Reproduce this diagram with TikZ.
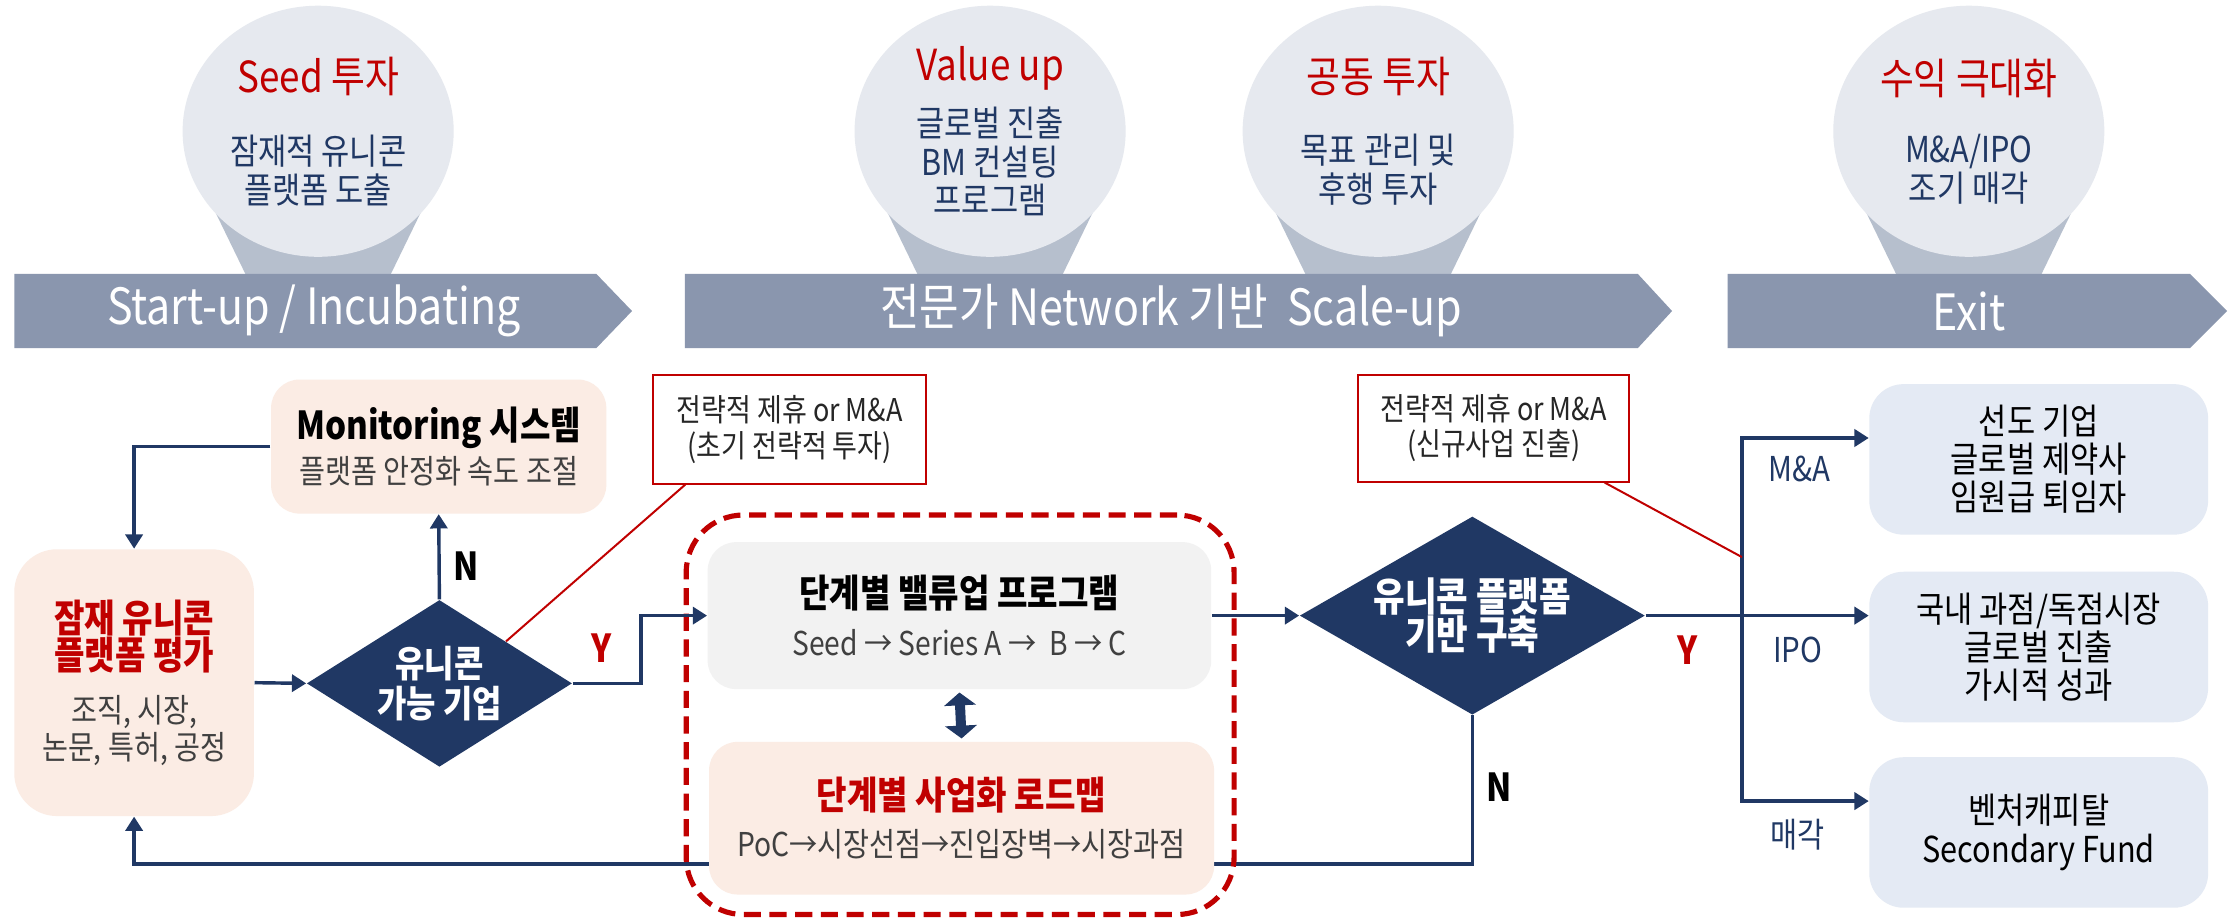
\documentclass[tikz,border=0pt]{standalone}
\usepackage{fontspec}
\setmainfont{Noto Sans CJK KR}[FakeStretch=0.86]
\usetikzlibrary{shapes.geometric,arrows.meta,positioning}

\definecolor{navy}{HTML}{203864}
\definecolor{darkred}{HTML}{C00000}
\definecolor{bannergray}{HTML}{8A96AE}
\definecolor{bubblefill}{HTML}{E6E9EF}
\definecolor{tailfill}{HTML}{B6BFCD}
\definecolor{peach}{HTML}{FBECE4}
\definecolor{lightgray}{HTML}{F2F2F2}
\definecolor{paleblue}{HTML}{E4EAF4}
\definecolor{textgray}{HTML}{404040}

\newcommand{\bubhead}[1]{{\color{darkred}\fontsize{15}{16}\selectfont #1}}
\newcommand{\redhead}[1]{{\color{darkred}\bfseries\fontsize{13.5}{15}\selectfont #1}}
\newcommand{\blackhead}[1]{{\color{black}\bfseries\fontsize{13.5}{15}\selectfont #1}}

\tikzset{
  banner/.style={fill=bannergray},
  bannertext/.style={text=white, font=\fontsize{17.5}{20}\selectfont},
  tail/.style={fill=tailfill},
  bubble/.style={ellipse, fill=bubblefill, minimum width=95pt, minimum height=88pt,
    inner sep=0pt, align=center, text=navy, font=\fontsize{12.5}{13.5}\selectfont},
  softbox/.style={rounded corners=10pt, align=center, inner sep=0pt},
  decision/.style={diamond, fill=navy, inner sep=0pt},
  decisiontext/.style={text=white, align=center, font=\bfseries\fontsize{13}{14}\selectfont},
  note/.style={draw=darkred, line width=0.7pt, fill=white, align=center, inner sep=0pt,
    text=black!85, font=\fontsize{11}{12.5}\selectfont},
  group/.style={draw=darkred, dash pattern=on 6pt off 3pt, line width=1.8pt, rounded corners=20pt},
  exitbox/.style={softbox, rounded corners=12pt, fill=paleblue, minimum width=118.75pt,
    minimum height=52.75pt, font=\fontsize{12.5}{13.4}\selectfont},
  flow/.style={draw=navy, line width=1.2pt, -{Triangle[length=5pt,width=6pt]}},
  link/.style={draw=navy, line width=3.5pt, {Triangle[length=4.5pt,width=11pt]}-{Triangle[length=4.5pt,width=11pt]}},
  callout/.style={draw=darkred, line width=0.7pt},
  yes/.style={text=darkred, font=\bfseries\fontsize{13.5}{15}\selectfont},
  no/.style={text=black, font=\bfseries\fontsize{13.5}{15}\selectfont},
  route/.style={text=navy, font=\fontsize{12}{14}\selectfont}
}

\begin{document}
\begin{tikzpicture}[x=0.5pt,y=-0.5pt]
  \fill[white] (0,0) rectangle (1568,644);
  \useasboundingbox (0,0) rectangle (1568,644);

  % stage bar with bubbles
  \foreach \cx in {223,694,966,1380}
    \fill[tail] (\cx-86,120) -- (\cx-51,192) -- (\cx+51,192) -- (\cx+86,120) -- cycle;
  \fill[banner] (10,192) -- (418,192) -- (443,218) -- (418,244) -- (10,244) -- cycle;
  \fill[banner] (480,192) -- (1148,192) -- (1172,218) -- (1148,244) -- (480,244) -- cycle;
  \fill[banner] (1211,192) -- (1535,192) -- (1561,218) -- (1535,244) -- (1211,244) -- cycle;
  \node[bannertext] (stage1) at (220,218) {Start-up / Incubating};
  \node[bannertext] (stage2) at (821,218) {전문가 Network 기반~~Scale-up};
  \node[bannertext] (stage3) at (1380,218) {Exit};

  \node[bubble] (seed) at (223,92) {\bubhead{Seed 투자}\\[12pt]잠재적 유니콘\\플랫폼 도출};
  \node[bubble] (value) at (694,92) {\bubhead{Value up}\\[5pt]글로벌 진출\\BM 컨설팅\\프로그램};
  \node[bubble] (coinv) at (966,92) {\bubhead{공동 투자}\\[11.5pt]목표 관리 및\\후행 투자};
  \node[bubble] (profit) at (1380,92) {\bubhead{수익 극대화}\\[10.5pt]M\&A/IPO\\조기 매각};

  % flow
  \node[softbox, fill=peach, minimum width=117.5pt, minimum height=47pt, text=textgray,
    font=\fontsize{11.5}{15.5}\selectfont] (mon) at (307.5,313)
    {\blackhead{Monitoring 시스템}\\플랫폼 안정화 속도 조절};
  \node[softbox, rounded corners=15pt, fill=peach, minimum width=84pt, minimum height=93.5pt,
    text=textgray, font=\fontsize{11.5}{13}\selectfont] (eval) at (94,478.5)
    {\redhead{잠재 유니콘}\\\redhead{플랫폼 평가}\\[5.5pt]조직, 시장,\\논문, 특허, 공정};
  \node[decision, minimum width=93pt, minimum height=58.5pt] (d1) at (308,479) {};
  \node[decisiontext] (d1text) at (d1) {유니콘\\가능 기업};
  \node[decision, minimum width=121pt, minimum height=69.5pt] (d2) at (1032,431.5) {};
  \node[decisiontext, font=\bfseries\fontsize{14}{13.5}\selectfont] (d2text) at (d2) {유니콘 플랫폼\\기반 구축};
  \node[note, minimum width=95.5pt, minimum height=38pt] (note1) at (553.5,301)
    {전략적 제휴 or M\&A\\(초기 전략적 투자)};
  \node[note, minimum width=95pt, minimum height=37.5pt] (note2) at (1047,300)
    {전략적 제휴 or M\&A\\(신규사업 진출)};

  \coordinate (loop) at (94,605.5);
  \draw[flow] (d2.south) |- (loop) -- (eval.south);

  \node[group, minimum width=192pt, minimum height=140pt] (grp) at (673,501) {};
  \node[softbox, fill=lightgray, minimum width=176.5pt, minimum height=51.5pt, text=textgray,
    font=\fontsize{11.5}{17}\selectfont] (vup) at (672.5,431.5)
    {\blackhead{단계별 밸류업 프로그램}\\Seed → Series A →~~B → C};
  \node[softbox, fill=peach, minimum width=177pt, minimum height=53.5pt, text=textgray,
    font=\fontsize{11.5}{16.5}\selectfont] (road) at (674,573.5)
    {\redhead{단계별 사업화 로드맵}\\PoC→시장선점→진입장벽→시장과점};

  \node[exitbox] (ma) at (1429,322) {선도 기업\\글로벌 제약사\\임원급 퇴임자};
  \node[exitbox] (ipo) at (1429,453.5) {국내 과점/독점시장\\글로벌 진출\\가시적 성과};
  \node[exitbox] (vc) at (1429,583.5) {벤처캐피탈\\Secondary Fund};

  \draw[flow] (mon.west) -| (eval.north);
  \draw[flow] (eval.east) -- (d1.west);
  \draw[flow] (d1.north) -- (mon.south);
  \draw[flow] (d1.east) -- ++(48,0) |- (vup.west);
  \draw[flow] (vup.east) -- (d2.west);
  \draw[link] ([yshift=-1pt]vup.south) -- ([yshift=1pt]road.north);

  \coordinate (split) at (d2.east -| 1221,0);
  \draw[flow] (d2.east) -- (d2.east -| ipo.west);
  \draw[flow] (split) |- ([yshift=7.5pt]ma.west);
  \draw[flow] (split) |- ([yshift=11pt]vc.west);

  \draw[callout] ([xshift=11.5pt]note1.south west) -- (d1.north east);
  \draw[callout] ([xshift=-9pt]note2.south east) -- ([yshift=20.5pt]split);

  \node[no] (n1) at (327,397) {N};
  \node[yes] (y1) at (422,454) {Y};
  \node[yes] (y2) at (1183,455.5) {Y};
  \node[no] (n2) at (1051,551.6) {N};
  \node[route] (lma) at (1261,329) {M\&A};
  \node[route] (lipo) at (1260,455.5) {IPO};
  \node[route] (lsell) at (1260,585) {매각};
\end{tikzpicture}
\end{document}
